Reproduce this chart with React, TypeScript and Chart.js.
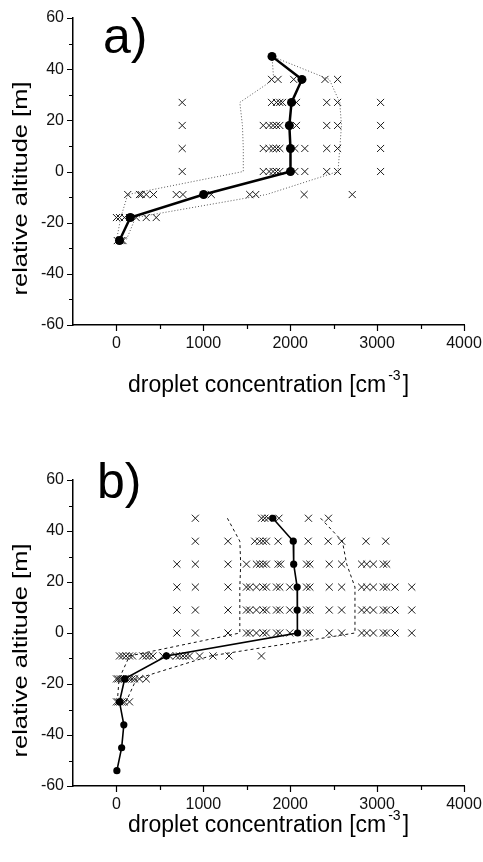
import React, { useEffect, useRef } from 'react';
import { Chart, registerables } from 'chart.js';
Chart.register(...registerables);

const FONT = '"Liberation Sans", Arial, Helvetica, sans-serif';

// axis ticks
const X_TICKS = [0, 1000, 2000, 3000, 4000];
const X_MINOR = [500, 1500, 2500, 3500];
const Y_TICKS = [-60, -40, -20, 0, 20, 40, 60];
const Y_MINOR = [-50, -30, -10, 10, 30, 50];

// ---------- panel a ----------
const ALT_A = [45, 36, 27, 18, 9, 0, -9, -18, -27];
const MEAN_A = [1790, 2135, 2015, 1990, 2003, 2003, 1003, 160, 35];
const LOW_A = [1790, 1810, 1420, 1450, 1460, 1460, 130, 50, 0];
const HIGH_A = [1790, 2450, 2570, 2590, 2570, 2550, 1727, 220, 110];
const ROW_ALT_A = [36, 27, 18, 9, 0, -9, -18, -27];
const ROWS_A = [
  [1785, 1860, 2040, 2400, 2545],
  [757, 1785, 1842, 1880, 1911, 2072, 2420, 2545, 3040],
  [757, 1690, 1757, 1803, 1842, 1880, 2072, 2420, 2545, 3040],
  [757, 1690, 1757, 1803, 1842, 1880, 2053, 2168, 2420, 2545, 3040],
  [757, 1690, 1757, 1803, 1842, 1880, 2053, 2168, 2420, 2545, 3040],
  [130, 265, 285, 343, 427, 688, 765, 1092, 1534, 1603, 2160, 2714],
  [0, 35, 92, 150, 227, 343, 458],
  [10, 35, 55, 75],
];

// ---------- panel b ----------
const ALT_B = [45, 36, 27, 18, 9, 0, -9, -18, -27, -36, -45, -54];
const MEAN_B = [1800, 2035, 2040, 2080, 2080, 2085, 575, 95, 35, 85, 60, 5];
const ENV_ALT_B = [45, 36, 27, 18, 9, 0, -9, -18, -27];
const LOW_B = [1277, 1420, 1430, 1420, 1420, 1420, 150, 30, 10];
const HIGH_B = [2350, 2600, 2650, 2745, 2745, 2745, 1080, 230, 110];
const ROW_ALT_B = [45, 36, 27, 18, 9, 0, -9, -18, -27];
const ROWS_B = [
  [908, 1670, 1707, 1745, 1870, 2210, 2440],
  [908, 1284, 1592, 1649, 1688, 1726, 1861, 2207, 2437, 2592, 2872, 3099],
  [696, 908, 1284, 1496, 1611, 1650, 1690, 1726, 1860, 1890, 2188, 2226, 2449, 2592, 2822, 2880, 2957, 3072, 3110],
  [696, 908, 1284, 1496, 1534, 1611, 1688, 1726, 1842, 1880, 1995, 2188, 2226, 2449, 2592, 2822, 2880, 2957, 3072, 3110, 3206, 3399],
  [696, 908, 1284, 1496, 1534, 1611, 1688, 1726, 1842, 1880, 1995, 2188, 2226, 2449, 2592, 2822, 2880, 2957, 3072, 3110, 3206, 3399],
  [696, 908, 1284, 1496, 1534, 1611, 1688, 1726, 1842, 1880, 1995, 2188, 2226, 2449, 2592, 2822, 2880, 2957, 3072, 3110, 3206, 3399],
  [35, 70, 110, 150, 185, 303, 343, 380, 420, 534, 611, 688, 727, 765, 803, 842, 957, 1111, 1296, 1669],
  [0, 20, 45, 70, 95, 120, 150, 180, 210, 265, 343],
  [0, 20, 40, 65, 90, 150],
];

const X_TITLE = 'droplet concentration [cm';
const X_TITLE_SUP = '-3';
const X_TITLE_END = ']';
const Y_TITLE = 'relative altitude [m]';

type PanelCfg = {
  letter: string;
  top: number;
  padTop: number;
  xAxisHeight: number;
  letterX: number;
  letterY: number;
  xTitleOffset: number;
  alt: number[];
  mean: number[];
  envAlt: number[];
  low: number[];
  high: number[];
  rowAlt: number[];
  rows: number[][];
  meanWidth: number;
  meanRadius: number;
  envColor: string;
  envDash: number[];
};

const PANELS: PanelCfg[] = [
  {
    letter: 'a)', top: 0, padTop: 18, xAxisHeight: 106, letterX: 103, letterY: 53, xTitleOffset: 67,
    alt: ALT_A, mean: MEAN_A, envAlt: ALT_A, low: LOW_A, high: HIGH_A, rowAlt: ROW_ALT_A, rows: ROWS_A,
    meanWidth: 2.5, meanRadius: 4.5, envColor: '#555', envDash: [1, 2],
  },
  {
    letter: 'b)', top: 431, padTop: 49, xAxisHeight: 76, letterX: 97, letterY: 67, xTitleOffset: 46,
    alt: ALT_B, mean: MEAN_B, envAlt: ENV_ALT_B, low: LOW_B, high: HIGH_B, rowAlt: ROW_ALT_B, rows: ROWS_B,
    meanWidth: 1.6, meanRadius: 3.6, envColor: '#111', envDash: [3, 3],
  },
];

const toPoints = (xs: number[], ys: number[]) => xs.map((x, i) => ({ x, y: ys[i] }));
const rowsToPoints = (rows: number[][], alts: number[]) =>
  rows.flatMap((r, i) => r.map((x) => ({ x, y: alts[i] })));

function decorPlugin(p: PanelCfg) {
  return {
    id: 'decor',
    afterDraw(chart: any) {
      const { ctx, chartArea: a } = chart;
      const xs = chart.scales.x;
      const ys = chart.scales.y;
      ctx.save();
      ctx.strokeStyle = '#000';
      ctx.lineWidth = 1.2;
      ctx.beginPath();
      X_TICKS.forEach((v) => { const px = Math.round(xs.getPixelForValue(v)) + 0.5; ctx.moveTo(px, a.bottom); ctx.lineTo(px, a.bottom + 6); });
      X_MINOR.forEach((v) => { const px = Math.round(xs.getPixelForValue(v)) + 0.5; ctx.moveTo(px, a.bottom); ctx.lineTo(px, a.bottom + 4); });
      Y_TICKS.forEach((v) => { const py = Math.round(ys.getPixelForValue(v)) + 0.5; ctx.moveTo(a.left, py); ctx.lineTo(a.left - 6, py); });
      Y_MINOR.forEach((v) => { const py = Math.round(ys.getPixelForValue(v)) + 0.5; ctx.moveTo(a.left, py); ctx.lineTo(a.left - 4, py); });
      ctx.stroke();

      ctx.fillStyle = '#000';
      ctx.textBaseline = 'alphabetic';
      // panel letter
      ctx.textAlign = 'left';
      ctx.font = `50px ${FONT}`;
      ctx.fillText(p.letter, p.letterX, p.letterY);

      // x title with superscript
      ctx.font = `23px ${FONT}`;
      const wMain = ctx.measureText(X_TITLE).width;
      const wEnd = ctx.measureText(X_TITLE_END).width;
      ctx.font = `14px ${FONT}`;
      const wSup = ctx.measureText(X_TITLE_SUP).width;
      const total = wMain + 2 + wSup + 2 + wEnd;
      const sx = (a.left + a.right) / 2 - total / 2;
      const by = a.bottom + p.xTitleOffset;
      ctx.font = `23px ${FONT}`;
      ctx.fillText(X_TITLE, sx, by);
      ctx.font = `14px ${FONT}`;
      ctx.fillText(X_TITLE_SUP, sx + wMain + 2, by - 12);
      ctx.font = `23px ${FONT}`;
      ctx.fillText(X_TITLE_END, sx + wMain + 4 + wSup, by);

      // y title (rotated, stretched along its length)
      ctx.font = `20px ${FONT}`;
      const wY = ctx.measureText(Y_TITLE).width;
      const stretch = 214 / wY;
      ctx.translate(27, a.top + 170.5);
      ctx.rotate(-Math.PI / 2);
      ctx.scale(stretch, 1);
      ctx.textAlign = 'center';
      ctx.fillText(Y_TITLE, 0, 0);
      ctx.restore();
    },
  };
}

function Panel({ p }: { p: PanelCfg }) {
  const ref = useRef<HTMLCanvasElement | null>(null);
  useEffect(() => {
    if (!ref.current) return;
    const chart = new Chart(ref.current, {
      type: 'scatter',
      data: {
        datasets: [
          {
            label: 'mean',
            data: toPoints(p.mean, p.alt),
            showLine: true,
            borderColor: '#000',
            backgroundColor: '#000',
            borderWidth: p.meanWidth,
            pointRadius: p.meanRadius,
            pointBorderWidth: 0,
            pointStyle: 'circle',
            order: 0,
          },
          {
            label: 'low',
            data: toPoints(p.low, p.envAlt),
            showLine: true,
            borderColor: p.envColor,
            borderWidth: 1,
            borderDash: p.envDash,
            pointRadius: 0,
            order: 1,
          },
          {
            label: 'high',
            data: toPoints(p.high, p.envAlt),
            showLine: true,
            borderColor: p.envColor,
            borderWidth: 1,
            borderDash: p.envDash,
            pointRadius: 0,
            order: 1,
          },
          {
            label: 'samples',
            data: rowsToPoints(p.rows, p.rowAlt),
            showLine: false,
            pointStyle: 'crossRot',
            pointRadius: 5,
            borderColor: '#1a1a1a',
            backgroundColor: 'transparent',
            pointBorderWidth: 1,
            borderWidth: 1,
            order: 2,
          },
        ],
      } as any,
      options: {
        responsive: false,
        animation: false,
        devicePixelRatio: 1,
        events: [],
        layout: { padding: { top: p.padTop, right: 19, left: 0, bottom: 0 } },
        plugins: { legend: { display: false }, tooltip: { enabled: false }, title: { display: false } },
        scales: {
          x: {
            type: 'linear',
            min: -500,
            max: 4000,
            afterBuildTicks: (s: any) => { s.ticks = X_TICKS.map((v) => ({ value: v })); },
            afterFit: (s: any) => { s.height = p.xAxisHeight; s.paddingLeft = 0; s.paddingRight = 0; },
            grid: { display: false, drawTicks: false },
            border: { display: true, color: '#000', width: 1.5 },
            ticks: { padding: 9, font: { family: FONT, size: 16 }, color: '#111', maxRotation: 0, callback: (v: any) => String(v) },
          },
          y: {
            type: 'linear',
            min: -60,
            max: 60,
            afterBuildTicks: (s: any) => { s.ticks = Y_TICKS.map((v) => ({ value: v })); },
            afterFit: (s: any) => { s.width = 73; s.paddingTop = 0; s.paddingBottom = 0; },
            grid: { display: false, drawTicks: false },
            border: { display: true, color: '#000', width: 1.5 },
            ticks: { padding: 9, font: { family: FONT, size: 16 }, color: '#111', callback: (v: any) => String(v) },
          },
        },
      } as any,
      plugins: [decorPlugin(p)],
    });
    return () => chart.destroy();
  }, [p]);
  return (
    <canvas
      ref={ref}
      width={483}
      height={431}
      style={{ position: 'absolute', left: 0, top: p.top, width: 483, height: 431 }}
    />
  );
}

export default function App() {
  return (
    <div style={{ position: 'absolute', left: 0, top: 0, width: 483, height: 862, background: '#fff' }}>
      {PANELS.map((p) => (
        <Panel key={p.letter} p={p} />
      ))}
    </div>
  );
}
